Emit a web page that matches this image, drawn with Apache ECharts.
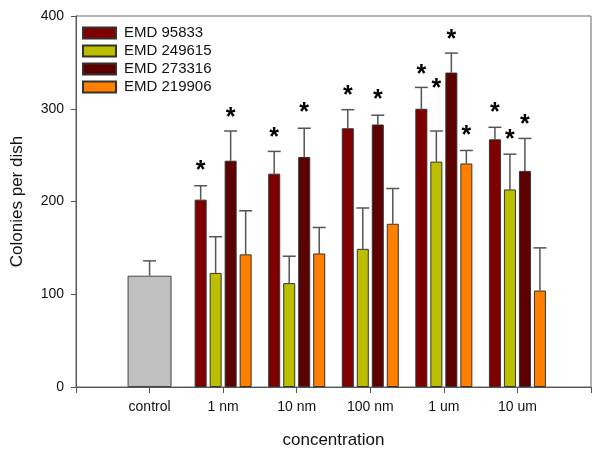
<!DOCTYPE html>
<html>
<head>
<meta charset="utf-8">
<script src="https://cdn.jsdelivr.net/npm/echarts@6/dist/echarts.min.js"></script>
<style>
html,body{margin:0;padding:0;background:#fff;}
#chart{width:600px;height:460px;}
</style>
</head>
<body>
<div id="chart"></div>
<script>
// ---- data ----
var categories = ['control', '1 nm', '10 nm', '100 nm', '1 um', '10 um'];
var controlValue = 120;
var controlErr = 16;
var seriesNames = ['EMD 95833', 'EMD 249615', 'EMD 273316', 'EMD 219906'];
var emd95833 = [202, 230, 279, 300, 267];
var emd249615 = [123, 112, 149, 243, 213];
var emd273316 = [244, 248, 283, 339, 233];
var emd219906 = [143, 144, 176, 241, 104];
var err95833 = [15, 24, 20, 23, 13];
var err249615 = [39, 29, 44, 33, 38];
var err273316 = [32, 31, 10, 21, 35];
var err219906 = [47, 28, 38, 14, 46];
// significance asterisk heights (value units), null = none
var star95833 = [239, 275, 320, 343, 302];
var star249615 = [null, null, null, 328, 273];
var star273316 = [296, 302, 316, 380, 289];
var star219906 = [null, null, null, 277, null];
var yTicks = [0, 100, 200, 300, 400];

// ---- build ----
var axisCats = [''].concat(categories).concat(['']);
var colors = ['#800000', '#bbbf00', '#5c0000', '#ff8000'];
var values = [emd95833, emd249615, emd273316, emd219906];
var errs = [err95833, err249615, err273316, err219906];
var stars = [star95833, star249615, star273316, star219906];

var BAR_W = 12, BAR_GAP = 0.25, PITCH = BAR_W * (1 + BAR_GAP), CAP = 13;

function padGroup(arr) { return [null, null].concat(arr).concat([null]); }

var series = [];
// control bar on its own (hidden) x axis so it is laid out independently
series.push({
  name: 'control', type: 'bar', xAxisIndex: 1, barWidth: 44,
  data: [null, controlValue, null, null, null, null, null, null],
  itemStyle: { color: '#c0c0c0', borderColor: '#444', borderWidth: 1 },
  silent: true, z: 2
});
values.forEach(function (v, i) {
  series.push({
    name: seriesNames[i], type: 'bar', xAxisIndex: 0, barWidth: BAR_W, barGap: (BAR_GAP * 100) + '%',
    data: padGroup(v),
    itemStyle: { color: colors[i], borderColor: '#333', borderWidth: 1 },
    z: 2
  });
});

function errRender(offset) {
  return function (params, api) {
    var c = api.value(0), v = api.value(1), e = api.value(2), s = api.value(3);
    var base = api.coord([c, v]);
    var top = api.coord([c, v + e]);
    var x = base[0] + offset;
    var children = [
      { type: 'line', shape: { x1: x, y1: base[1], x2: x, y2: top[1] }, style: { stroke: '#555', lineWidth: 1.5 } },
      { type: 'line', shape: { x1: x - CAP / 2, y1: top[1], x2: x + CAP / 2, y2: top[1] }, style: { stroke: '#555', lineWidth: 1.5 } }
    ];
    if (s !== null && !isNaN(s)) {
      var sp = api.coord([c, s]);
      children.push({ type: 'text', style: { text: '*', x: x, y: sp[1] + 6, align: 'center', verticalAlign: 'middle',
        font: 'bold 25px "Liberation Sans", Arial, sans-serif', fill: '#000' } });
    }
    return { type: 'group', children: children };
  };
}

series.push({
  type: 'custom', xAxisIndex: 1, z: 1, silent: true,
  renderItem: errRender(0),
  data: [[1, controlValue, controlErr, null]]
});
values.forEach(function (v, i) {
  var d = v.map(function (val, k) { return [k + 2, val, errs[i][k], stars[i][k] === null ? NaN : stars[i][k]]; });
  series.push({
    type: 'custom', xAxisIndex: 0, z: 1, silent: true,
    renderItem: errRender((i - 1.5) * PITCH),
    data: d
  });
});

var font = '"Liberation Sans", Arial, sans-serif';
var xAxisBase = {
  type: 'category', data: axisCats, boundaryGap: false,
  axisLine: { lineStyle: { color: '#555', width: 1 } },
  axisTick: { show: true, length: 6, inside: false, lineStyle: { color: '#555' }, alignWithLabel: true },
  axisLabel: { color: '#111', fontSize: 14, fontFamily: font, margin: 13, interval: 0 },
  splitLine: { show: false }
};
var option = {
  animation: false,
  backgroundColor: '#fff',
  grid: { left: 76, right: 9, top: 16, bottom: 73, show: true, borderColor: '#666', borderWidth: 1 },
  legend: {
    data: seriesNames, orient: 'vertical', left: 82, top: 25, padding: 0,
    icon: 'rect', itemWidth: 33, itemHeight: 11, itemGap: 2,
    textStyle: { fontSize: 15, fontFamily: font, color: '#111', padding: [0, 0, 0, 3], lineHeight: 16 },
    selectedMode: false
  },
  xAxis: [
    Object.assign({}, xAxisBase, {
      name: 'concentration', nameLocation: 'middle', nameGap: 45,
      nameTextStyle: { fontSize: 17, fontFamily: font, color: '#111' }
    }),
    Object.assign({}, xAxisBase, { show: false })
  ],
  yAxis: {
    type: 'value', min: 0, max: 400, interval: 100,
    name: 'Colonies per dish', nameLocation: 'middle', nameGap: 50, nameRotate: 90,
    nameTextStyle: { fontSize: 17, fontFamily: font, color: '#111' },
    axisLine: { show: true, lineStyle: { color: '#555' } },
    axisTick: { show: true, length: 5, lineStyle: { color: '#555' } },
    axisLabel: { color: '#111', fontSize: 14, fontFamily: font, margin: 12,
      formatter: function (val) { return yTicks.indexOf(val) >= 0 ? String(val) : ''; } },
    splitLine: { show: false }
  },
  series: series
};
var chart = echarts.init(document.getElementById('chart'), null, { renderer: 'canvas' });
chart.setOption(option);
</script>
</body>
</html>
